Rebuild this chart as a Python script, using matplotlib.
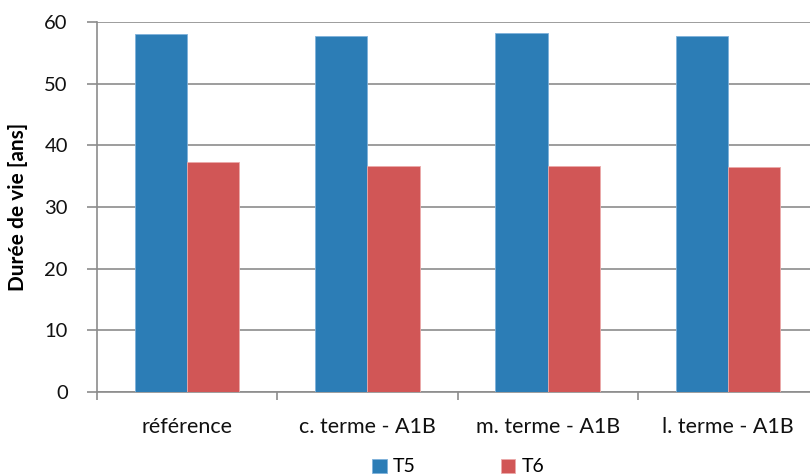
import matplotlib
matplotlib.use("Agg")
import matplotlib.pyplot as plt
import numpy as np

categories = ["référence", "c. terme - A1B", "m. terme - A1B", "l. terme - A1B"]
t5 = [58.1, 57.7, 58.25, 57.7]
t6 = [37.35, 36.7, 36.7, 36.45]
yticks = [0, 10, 20, 30, 40, 50, 60]

plt.rcParams['font.family'] = ['Lato', 'DejaVu Sans']

fig = plt.figure(figsize=(8.1, 4.76), dpi=100)
ax = fig.add_axes([97 / 810, 1 - 392 / 476, 721 / 810, 370 / 476])

x = np.arange(len(categories))
w = 0.29
ax.bar(x - w / 2, t5, w, color='#2C7DB6', label='T5', zorder=3,
       edgecolor='#7FB2DA', linewidth=0.6)
ax.bar(x + w / 2, t6, w, color='#D15656', label='T6', zorder=3,
       edgecolor='#EBA9A9', linewidth=0.6)

ax.set_xlim(-0.5, len(categories) - 0.5)
ax.set_ylim(0, 60)
ax.set_yticks(yticks)
ax.yaxis.grid(True, color='#8C8C8C', linewidth=1.2, zorder=0)
ax.set_axisbelow(True)

# category ticks sit on the group boundaries
ax.set_xticks(np.arange(len(categories) + 1) - 0.5)
ax.set_xticklabels([])
ax.set_xticks(x, minor=True)
ax.set_xticklabels(categories, minor=True, fontsize=15.5, color='#111111')
ax.tick_params(axis='x', which='minor', length=0, pad=18)
ax.tick_params(axis='x', which='major', length=6, color='#8C8C8C', width=1.2)
ax.tick_params(axis='y', length=7, color='#8C8C8C', width=1.2, labelsize=14.5,
               pad=14, labelcolor='#111111')

for s in ['top', 'right']:
    ax.spines[s].set_visible(False)
for s in ['left', 'bottom']:
    ax.spines[s].set_color('#8C8C8C')
    ax.spines[s].set_linewidth(1.2)

ax.set_ylabel("Durée de vie [ans]", fontsize=15, fontweight='bold', labelpad=12)

fig.legend(loc='center', bbox_to_anchor=(458 / 810, 1 - 467 / 476), ncol=2,
           frameon=False, fontsize=14, handlelength=0.75, handleheight=0.75,
           columnspacing=4.4, handletextpad=0.3)

fig.savefig("out.png", dpi=100)
